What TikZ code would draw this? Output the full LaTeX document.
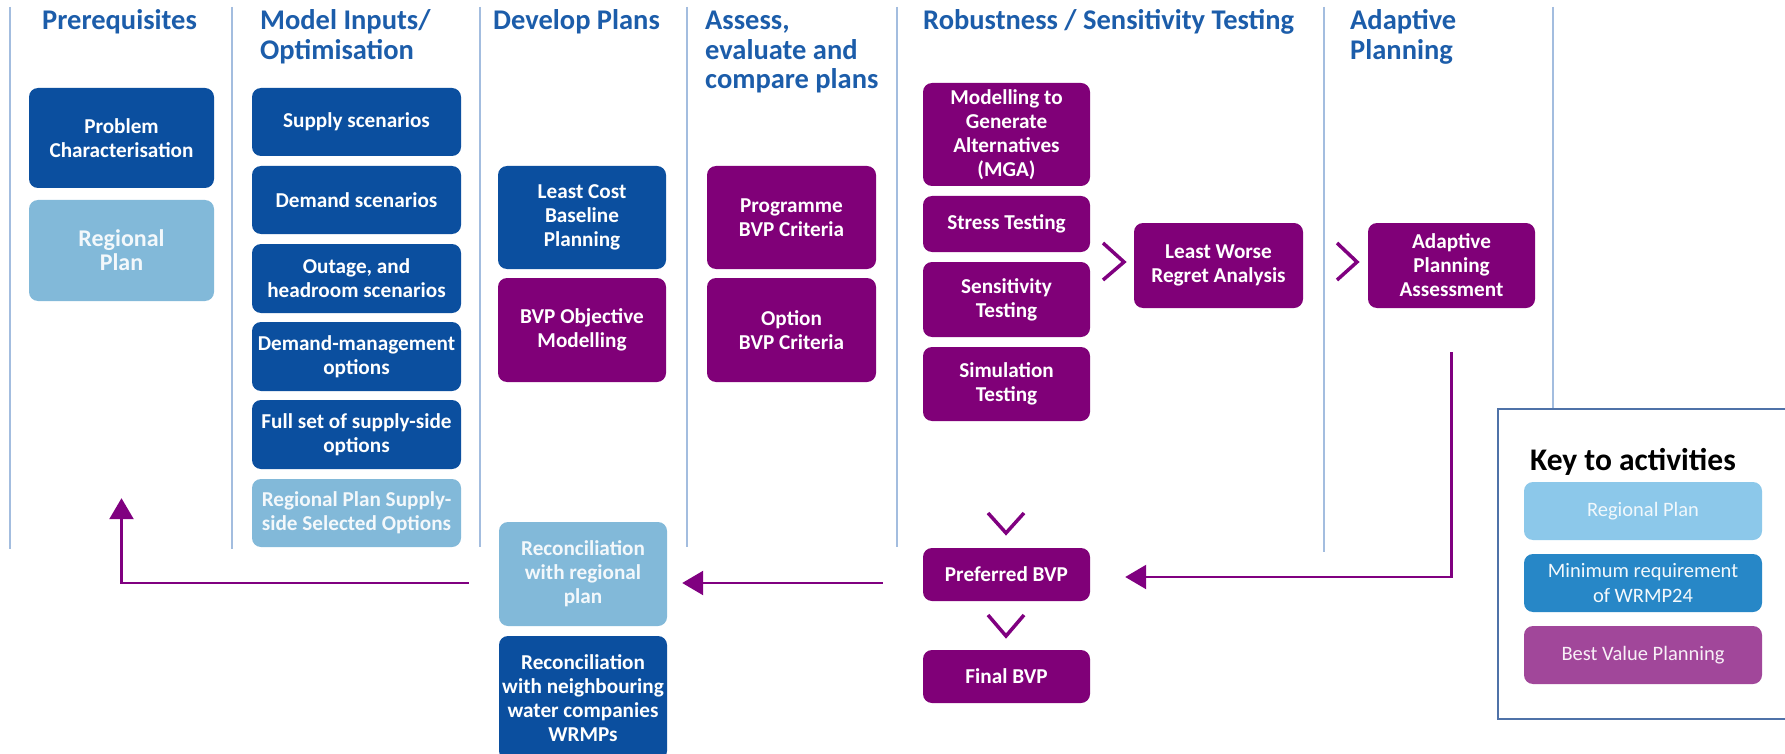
\documentclass[tikz,border=0pt]{standalone}
\usepackage{fontspec}
\setmainfont{Carlito}
\usetikzlibrary{arrows.meta}
\definecolor{dkblue}{HTML}{0B4F9F}
\definecolor{ltblue}{HTML}{82B9D9}
\definecolor{bvp}{HTML}{800078}
\definecolor{hdr}{HTML}{1C5DAA}
\definecolor{sepc}{HTML}{A3BDDF}
\definecolor{arrowc}{HTML}{800080}
\definecolor{keyframe}{HTML}{4F72A8}
\definecolor{keylt}{HTML}{8CC8EA}
\definecolor{keymid}{HTML}{2787C7}
\definecolor{keybvp}{HTML}{A1479A}
\newcommand\mkbox[7]{\node[#1, minimum width={(#4-#2)*1pt}, minimum height={(#5-#3)*1pt}] (#6) at ({(#2+#4)/2},{(#3+#5)/2}) {#7};}
\begin{document}
\begin{tikzpicture}[x=1pt,y=-1pt,
  card/.style={rounded corners=9pt, align=center, text=white, inner sep=2pt, font=\fontsize{21.2}{24}\selectfont\bfseries},
  dk/.style={card, fill=dkblue},
  lt/.style={card, fill=ltblue, text=white!90!ltblue},
  pu/.style={card, fill=bvp},
  hd/.style={anchor=base west, inner sep=0pt, text=hdr, font=\fontsize{28.5}{29.5}\selectfont\bfseries},
  sepline/.style={draw=sepc, line width=2pt},
  chev/.style={draw=arrowc, line width=3.5pt},
  arr/.style={draw=arrowc, line width=2.5pt, -{Triangle[length=21pt,width=24pt]}},
  keyb/.style={rounded corners=9pt, align=center, inner sep=2pt, font=\fontsize{20.5}{25}\selectfont}
]
\useasboundingbox (0,0) rectangle (1785,754);
\fill[white] (0,0) rectangle (1785,754);
% separators
\draw[sepline] (10,7) -- (10,549);
\draw[sepline] (232,7) -- (232,549);
\draw[sepline] (480,7) -- (480,547);
\draw[sepline] (687,7) -- (687,547);
\draw[sepline] (897,7) -- (897,547);
\draw[sepline] (1324,7) -- (1324,552);
\draw[sepline] (1553,7) -- (1553,409);
% headers
\node[hd] (h1) at (42,30) {Prerequisites};
\node[hd] (h2) at (260,30) {\begin{tabular}[t]{@{}l@{}}Model Inputs/\\Optimisation\end{tabular}};
\node[hd] (h3) at (493,30) {Develop Plans};
\node[hd] (h4) at (705,30) {\begin{tabular}[t]{@{}l@{}}Assess,\\evaluate and\\compare plans\end{tabular}};
\node[hd] (h5) at (923,30) {Robustness / Sensitivity Testing};
\node[hd] (h6) at (1350,30) {\begin{tabular}[t]{@{}l@{}}Adaptive\\Planning\end{tabular}};
% column 1
\mkbox{dk}{29}{88}{214}{188}{prob}{Problem\\Characterisation}
\mkbox{lt, font=\fontsize{24}{24}\selectfont\bfseries}{29}{200}{214}{301}{regp}{Regional\\Plan}
% column 2
\mkbox{dk}{252}{88}{461}{156}{sup}{Supply scenarios}
\mkbox{dk}{252}{166}{461}{234}{dem}{Demand scenarios}
\mkbox{dk}{252}{244}{461}{313}{out}{Outage, and\\headroom scenarios}
\mkbox{dk}{252}{322}{461}{391}{dmo}{Demand-management\\options}
\mkbox{dk}{252}{400}{461}{469}{fss}{Full set of supply-side\\options}
\mkbox{lt}{252}{479}{461}{547}{rps}{Regional Plan Supply-\\side Selected Options}
% column 3
\mkbox{dk}{498}{166}{666}{269}{lcb}{Least Cost\\Baseline\\Planning}
\mkbox{pu}{498}{278}{666}{382}{bvpo}{BVP Objective\\Modelling}
\mkbox{lt}{499}{522}{667}{626}{recr}{Reconciliation\\with regional\\plan}
\mkbox{dk}{499}{636}{667}{760}{recn}{Reconciliation\\with neighbouring\\water companies\\WRMPs}
% column 4
\mkbox{pu}{707}{166}{876}{269}{pbc}{Programme\\BVP Criteria}
\mkbox{pu}{707}{278}{876}{382}{obc}{Option\\BVP Criteria}
% column 5
\mkbox{pu}{923}{83}{1090}{186}{mga}{Modelling to\\Generate\\Alternatives\\(MGA)}
\mkbox{pu}{923}{196}{1090}{252}{str}{Stress Testing}
\mkbox{pu}{923}{262}{1090}{337}{sen}{Sensitivity\\Testing}
\mkbox{pu}{923}{347}{1090}{421}{sim}{Simulation\\Testing}
\mkbox{pu}{1134}{223}{1303}{308}{lwr}{Least Worse\\Regret Analysis}
\mkbox{pu}{923}{548}{1090}{601}{pref}{Preferred BVP}
\mkbox{pu}{923}{650}{1090}{703}{fin}{Final BVP}
% column 6
\mkbox{pu}{1368}{223}{1535}{308}{apa}{Adaptive\\Planning\\Assessment}
% chevrons
\draw[chev] (1103,243) -- (1124,262) -- (1103,280);
\draw[chev] (1337,243) -- (1357,262) -- (1337,280);
\draw[chev] (988,513) -- (1006,533) -- (1024,513);
\draw[chev] (988,615) -- (1006,636) -- (1024,615);
% arrows
\draw[arr, shorten <=44pt, shorten >=35pt] (apa.south) |- ([yshift=-2.5pt]pref.east);
\draw[arr, shorten <=40pt, shorten >=15pt] ([yshift=-8.5pt]pref.west) -- ([yshift=-9pt]recr.east);
\draw[arr, shorten <=30pt, shorten >=197pt] ([yshift=-9pt]recr.west) -| (regp.south);
% key
\draw[keyframe, line width=1.5pt] (1795,409) -- (1498,409) -- (1498,719) -- (1795,719);
\node[anchor=base west, inner sep=0pt, font=\fontsize{31.5}{36}\selectfont\bfseries] (keyt) at (1530,470) {Key to activities};
\mkbox{keyb, fill=keylt, text=white!88!keylt}{1524}{482}{1762}{540}{k1}{Regional Plan}
\mkbox{keyb, fill=keymid, text=white!95!keymid}{1524}{554}{1762}{612}{k2}{Minimum requirement\\of WRMP24}
\mkbox{keyb, fill=keybvp, text=white!92!keybvp}{1524}{626}{1762}{684}{k3}{Best Value Planning}
\end{tikzpicture}
\end{document}
